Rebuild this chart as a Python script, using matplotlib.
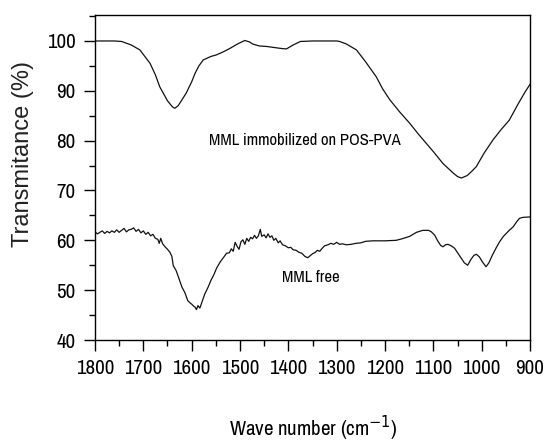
import matplotlib
matplotlib.use('Agg')
import matplotlib.pyplot as plt
from matplotlib.ticker import MultipleLocator

# MML immobilized on POS-PVA (upper trace)
wn_immob = [1800, 1760, 1745, 1725, 1707, 1686, 1675, 1666, 1650, 1640, 1635, 1628, 1620,
            1611, 1600, 1593, 1585, 1576, 1560, 1549, 1535, 1521, 1505, 1490, 1480, 1474,
            1460, 1445, 1430, 1415, 1404, 1390, 1375, 1350, 1300, 1294, 1280, 1259, 1240,
            1218, 1205, 1190, 1170, 1149, 1130, 1115, 1100, 1080, 1060, 1050, 1042, 1030,
            1020, 1011, 995, 977, 960, 943, 925, 910, 900]
t_immob = [100, 100, 99.9, 99.2, 98.2, 95.5, 93.2, 90.8, 88.0, 86.8, 86.5, 87.0, 88.2,
           89.6, 91.8, 93.5, 95.0, 96.2, 96.9, 97.2, 97.8, 98.5, 99.4, 100.1, 99.8, 99.4,
           99.0, 98.9, 98.7, 98.5, 98.4, 99.2, 99.9, 100, 100, 99.9, 99.4, 98.2, 95.8,
           92.8, 90.4, 88.2, 85.8, 83.5, 81.2, 79.5, 77.8, 75.4, 73.6, 72.8, 72.5, 73.0,
           73.9, 74.8, 77.5, 80.1, 82.2, 84.1, 87.3, 89.8, 91.3]

# MML free (lower trace)
wn_free = [1800, 1795, 1790, 1785, 1780, 1775, 1770, 1765, 1760, 1755, 1750, 1745, 1740,
           1735, 1730, 1725, 1720, 1715, 1710, 1705, 1700, 1695, 1690, 1685, 1680, 1675,
           1670, 1667, 1664, 1660, 1655, 1650, 1645, 1641, 1638, 1632, 1625, 1620, 1614,
           1608, 1604, 1600, 1596, 1593, 1590, 1587, 1583, 1578, 1573, 1566, 1560, 1555,
           1548, 1540, 1533, 1528, 1522, 1518, 1514, 1510, 1506, 1502, 1498, 1494, 1490,
           1486, 1482, 1478, 1474, 1470, 1466, 1462, 1458, 1455, 1450, 1446, 1442, 1438,
           1434, 1430, 1426, 1421, 1417, 1412, 1406, 1400, 1395, 1390, 1384, 1378, 1372,
           1366, 1360, 1355, 1350, 1344, 1340, 1335, 1330, 1325, 1318, 1312, 1306, 1300,
           1294, 1288, 1280, 1270, 1260, 1250, 1240, 1225, 1200, 1177, 1165, 1149, 1135,
           1122, 1110, 1104, 1097, 1091, 1085, 1080, 1075, 1070, 1063, 1056, 1045, 1036,
           1029, 1022, 1016, 1011, 1005, 998, 991, 985, 978, 970, 963, 955, 943, 935,
           927, 922, 915, 900]
t_free = [61.7, 61.3, 61.6, 61.9, 61.4, 61.8, 61.5, 61.9, 61.6, 62.1, 61.6, 62.0, 62.4,
          61.7, 62.1, 62.2, 62.5, 61.8, 62.2, 61.5, 61.9, 61.2, 61.6, 60.9, 61.2, 60.4,
          60.2, 59.4, 60.4, 59.3, 58.7, 58.2, 57.6, 56.8, 54.9, 53.9, 52.0, 50.6, 49.5,
          47.9, 47.5, 47.2, 46.8, 46.6, 46.1, 46.9, 46.4, 47.8, 49.2, 50.6, 52.0, 52.9,
          54.5, 55.8, 56.7, 57.4, 57.5, 58.3, 57.8, 59.6, 58.8, 58.2, 59.7, 60.1, 59.2,
          60.4, 59.8, 60.6, 60.3, 61.0, 60.4, 60.9, 62.2, 60.8, 61.1, 60.5, 61.3, 60.6,
          60.9, 60.0, 60.4, 59.5, 59.9, 59.1, 58.9, 58.5, 58.6, 58.1, 58.0, 57.6, 57.4,
          56.8, 56.5, 56.9, 57.3, 57.6, 58.0, 57.8, 58.4, 58.9, 59.1, 59.4, 59.2, 59.6,
          59.2, 59.3, 59.1, 59.2, 59.4, 59.5, 59.8, 59.9, 59.9, 60.0, 60.3, 60.8, 61.6,
          62.0, 62.0, 61.7, 61.0, 59.9, 59.0, 58.7, 59.1, 59.2, 58.9, 58.4, 56.8, 55.5,
          55.0, 56.2, 57.0, 57.2, 56.7, 55.6, 54.7, 55.5, 57.0, 58.5, 59.7, 60.8, 62.0,
          62.7, 63.8, 64.4, 64.6, 64.7]

narrow = ['Archivo Narrow', 'DejaVu Sans']

fig = plt.figure(figsize=(5.44, 4.43), dpi=100)
ax = fig.add_axes([0.1746, 0.2325, 0.7997, 0.7335])

ax.plot(wn_immob, t_immob, color='#111111', lw=0.9)
ax.plot(wn_free, t_free, color='#111111', lw=0.9)

ax.set_xlim(1800, 900)
ax.set_ylim(40, 105.2)
ax.xaxis.set_major_locator(MultipleLocator(100))
ax.xaxis.set_minor_locator(MultipleLocator(50))
ax.yaxis.set_major_locator(MultipleLocator(10))
ax.yaxis.set_minor_locator(MultipleLocator(5))
ax.tick_params(which='major', direction='out', length=8, width=1, pad=6)
ax.tick_params(which='minor', direction='out', length=4, width=1)
for lab in ax.get_xticklabels() + ax.get_yticklabels():
    lab.set_family(narrow)
    lab.set_fontsize(15)

for sp in ax.spines.values():
    sp.set_linewidth(1)

ax.text(1366, 80.1, 'MML immobilized on POS-PVA', family=narrow, fontsize=12,
        ha='center', va='center')
ax.text(1354, 52.6, 'MML free', family=narrow, fontsize=12, ha='center', va='center')

fig.text(0.042, 0.652, 'Transmitance (%)', family=['Liberation Sans', 'DejaVu Sans'],
         fontsize=17, rotation=90, ha='center', va='center', color='#222222')
fig.text(0.577, 0.034, 'Wave number (cm$^{-1}$)', family=narrow, fontsize=15,
         ha='center', va='center')

fig.savefig('out.png', dpi=100)
